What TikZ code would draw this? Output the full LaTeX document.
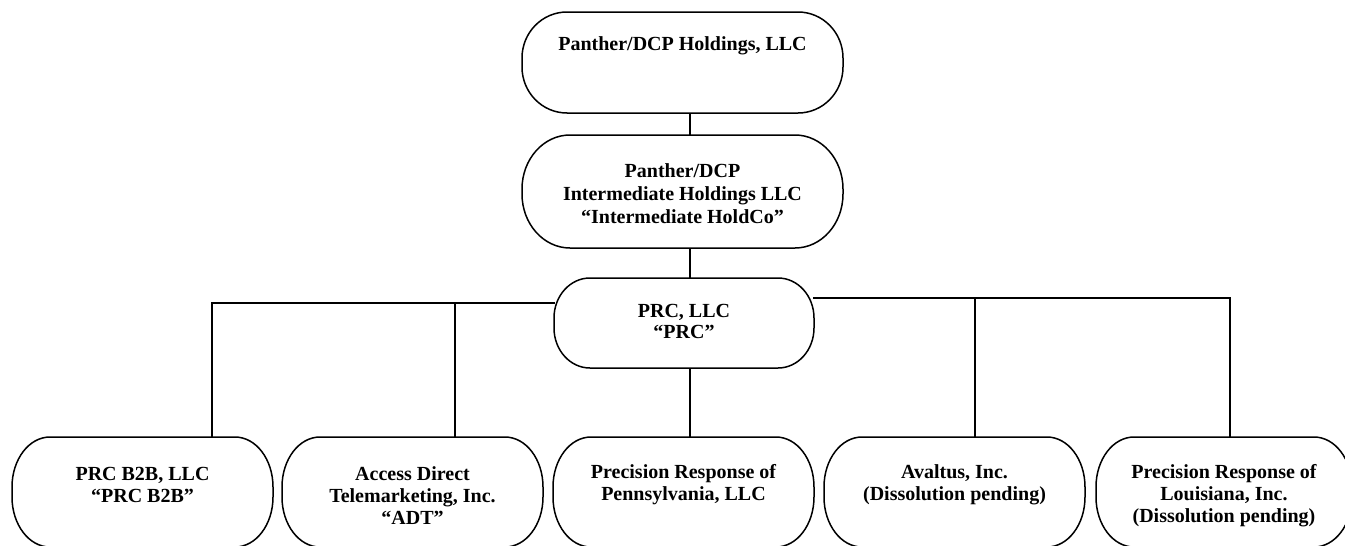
\documentclass[tikz,border=0pt]{standalone}
\usepackage{fontspec}
\setmainfont{Liberation Serif}
\newcommand\drawpill[3]{%
  \draw[boxline] ([xshift=#2pt]#1.north west) -- ([xshift=-#2pt]#1.north east)
    arc[start angle=90,end angle=0,x radius=#2pt,y radius=#3pt]
    -- ([yshift=#3pt]#1.south east)
    arc[start angle=0,end angle=-90,x radius=#2pt,y radius=#3pt]
    -- ([xshift=#2pt]#1.south west)
    arc[start angle=-90,end angle=-180,x radius=#2pt,y radius=#3pt]
    -- ([yshift=-#3pt]#1.north west)
    arc[start angle=180,end angle=90,x radius=#2pt,y radius=#3pt] -- cycle;}
\begin{document}
\begin{tikzpicture}[x=1pt,y=1pt,
  boxline/.style={line width=1.5pt,line join=round},
  conn/.style={line width=1.5pt},
  holder/.style={inner sep=0pt,outer sep=0pt},
  lbl/.style={font=\bfseries\fontsize{20}{22}\selectfont,align=center,inner sep=0pt}]
\useasboundingbox (0,0) rectangle (1345,-546);
% box outlines (named holders)
\node[holder,minimum width=321pt,minimum height=101pt] (top) at (682.5,-62.5) {};
\node[holder,minimum width=321pt,minimum height=113pt] (mid) at (682.5,-191.5) {};
\node[holder,minimum width=260pt,minimum height=90pt] (prc) at (684,-323) {};
\node[holder,minimum width=261pt,minimum height=110pt] (b1) at (142.5,-492) {};
\node[holder,minimum width=261pt,minimum height=110pt] (b2) at (412.5,-492) {};
\node[holder,minimum width=261pt,minimum height=110pt] (b3) at (683.5,-492) {};
\node[holder,minimum width=261pt,minimum height=110pt] (b4) at (954.5,-492) {};
\node[holder,minimum width=256pt,minimum height=110pt] (b5) at (1224,-492) {};
\drawpill{top}{45}{46}
\drawpill{mid}{48}{54}
\drawpill{prc}{36}{40}
\drawpill{b1}{38}{50}
\drawpill{b2}{38}{50}
\drawpill{b3}{38}{50}
\drawpill{b4}{38}{50}
\drawpill{b5}{38}{50}
% texts
\node[lbl] (ttop) at (682.5,-46) {Panther/DCP Holdings, LLC};
\node[lbl,font=\bfseries\fontsize{20}{23}\selectfont] (tmid) at (682.5,-194) {Panther/DCP\\Intermediate Holdings LLC\\“Intermediate HoldCo”};
\node[lbl,font=\bfseries\fontsize{20}{21}\selectfont] (tprc) at (684,-321) {PRC, LLC\\“PRC”};
\node[lbl] (tb1) at (142.5,-485) {PRC B2B, LLC\\“PRC B2B”};
\node[lbl] (tb2) at (412.5,-496) {Access Direct\\Telemarketing, Inc.\\“ADT”};
\node[lbl] (tb3) at (683.5,-485) {Precision Response of\\Pennsylvania, LLC};
\node[lbl] (tb4) at (954.5,-485) {Avaltus, Inc.\\(Dissolution pending)};
\node[lbl] (tb5) at (1224,-496) {Precision Response of\\Louisiana, Inc.\\(Dissolution pending)};
% connectors
\coordinate (hl) at (0,-303);
\coordinate (hr) at (0,-298);
\draw[conn] ([xshift=7.5pt]top.south) -- ([xshift=7.5pt]mid.north);
\draw[conn] ([xshift=7.5pt]mid.south) -- ([xshift=6pt]prc.north);
\draw[conn] ([xshift=6pt]prc.south) -- ([xshift=6.5pt]b3.north);
\draw[conn] ([xshift=1pt]prc.west |- hl) -| ([xshift=69.5pt]b1.north);
\draw[conn] ([xshift=42.5pt]b2.north) -- ([xshift=42.5pt]b2.north |- hl);
\draw[conn] ([xshift=-1pt]prc.east |- hr) -| ([xshift=6pt]b5.north);
\draw[conn] ([xshift=20.5pt]b4.north) -- ([xshift=20.5pt]b4.north |- hr);
\end{tikzpicture}
\end{document}
